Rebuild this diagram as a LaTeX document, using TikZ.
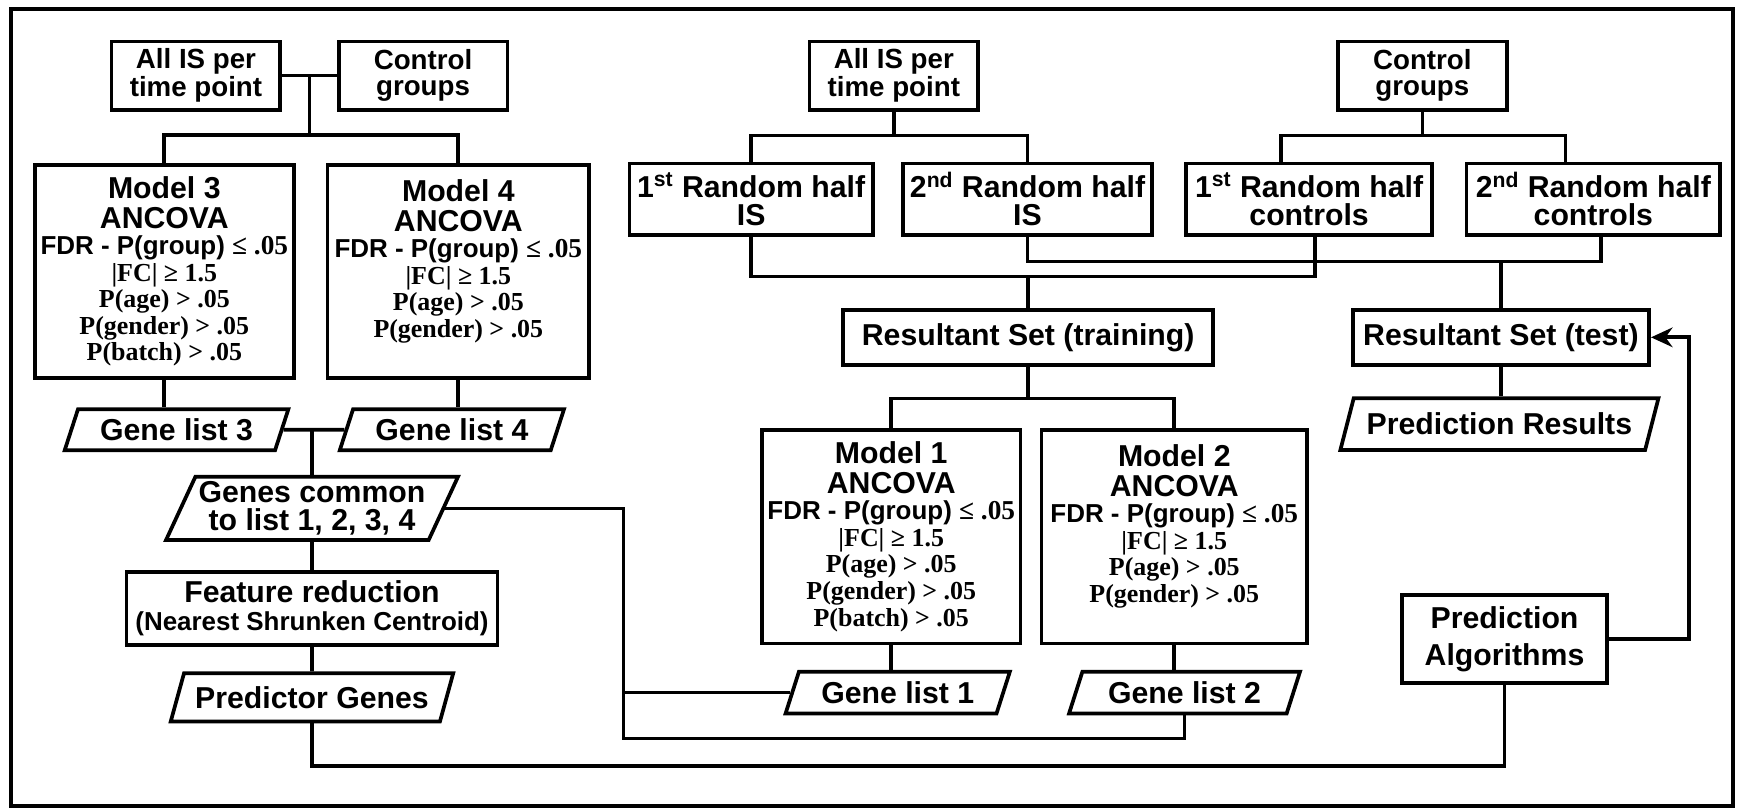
\documentclass[tikz,border=0pt]{standalone}
\usepackage{fontspec}
\setmainfont{Liberation Sans}
\newfontfamily\serifb{Liberation Serif}
\usetikzlibrary{shapes.geometric,arrows.meta,calc}

\newcommand{\ttl}{\fontsize{15.5}{15.5}\selectfont}
\newcommand{\crit}{\fontsize{13.3}{13.6}\selectfont}
\newcommand{\anc}[1]{{\ttl Model #1}\\[1.5pt]{\ttl ANCOVA}\\FDR - P(group) {\serifb\fontsize{14}{14}\selectfont ≤ .05}\\{\serifb |FC| ≥ 1.5}\\{\serifb P(age) > .05}\\{\serifb P(gender) > .05}}

\begin{document}
\begin{tikzpicture}[x=0.02cm,y=-0.02cm,
  box/.style={draw,line width=1.9pt,align=center,inner sep=1pt,
    font=\fontsize{15.5}{14.3}\selectfont\bfseries},
  src/.style={box,minimum width=3.04cm,minimum height=1.23cm,
    font=\fontsize{14.2}{13}\selectfont\bfseries},
  model/.style={box,minimum height=3.84cm,anchor=north,font=\crit\bfseries},
  data/.style={box,trapezium,trapezium left angle=63,trapezium right angle=117,
    trapezium stretches body},
  link/.style={line width=1.9pt}]
\useasboundingbox (0,0) rectangle (1568,728);
\draw[link] (10,8) rectangle (1561,726);

\node[src] (allL) at (176.5,68) {All IS per\\time point};
\node[src] (ctrlL) at (381,68) {Control\\groups};
\node[src] (allM) at (805,68) {All IS per\\time point};
\node[src] (ctrlR) at (1281,68) {Control\\groups};

\node[box,minimum width=4.38cm,minimum height=1.29cm] (r1IS) at (676.5,179.4) {1\textsuperscript{st} Random half\\IS};
\node[box,minimum width=4.48cm,minimum height=1.29cm] (r2IS) at (925.4,179.4) {2\textsuperscript{nd} Random half\\IS};
\node[box,minimum width=4.44cm,minimum height=1.29cm] (r1C) at (1179,179.4) {1\textsuperscript{st} Random half\\controls};
\node[box,minimum width=4.57cm,minimum height=1.29cm] (r2C) at (1435,179.4) {2\textsuperscript{nd} Random half\\controls};

\node[box,minimum width=6.67cm,minimum height=0.99cm] (train) at (926,303.8) {Resultant Set (training)};
\node[box,minimum width=5.34cm,minimum height=0.99cm] (test) at (1351.8,303.8) {Resultant Set (test)};
\node[data,minimum width=5.73cm,minimum height=0.93cm] (predres) at (1350.4,382) {Prediction Results};

\node[model,minimum width=4.66cm] (m3) at (148,147) {\anc{3}\\{\serifb P(batch) > .05}};
\node[model,minimum width=4.71cm] (m4) at (412.8,147) {\anc{4}\\\mbox{}};
\node[model,minimum width=4.66cm] (m1) at (802.7,385.8) {\anc{1}\\{\serifb P(batch) > .05}};
\node[model,minimum width=4.79cm] (m2) at (1057.6,385.8) {\anc{2}\\\mbox{}};

\node[data,minimum width=4.03cm,minimum height=0.74cm] (gl3) at (159,387) {Gene list 3};
\node[data,minimum width=4.04cm,minimum height=0.74cm] (gl4) at (407,387) {Gene list 4};
\node[data,minimum width=5.26cm,minimum height=1.14cm] (genes) at (281,457.9) {Genes common\\to list 1, 2, 3, 4};
\node[box,minimum width=6.68cm,minimum height=1.32cm] (feat) at (281,548) {Feature reduction\\{\crit(Nearest Shrunken Centroid)}};
\node[data,minimum width=5.09cm,minimum height=0.87cm] (predG) at (281,628) {Predictor Genes};
\node[data,minimum width=4.04cm,minimum height=0.75cm] (gl1) at (808.5,623.8) {Gene list 1};
\node[data,minimum width=4.16cm,minimum height=0.75cm] (gl2) at (1066.8,623.8) {Gene list 2};
\node[box,minimum width=3.7cm,minimum height=1.59cm,font=\fontsize{15.5}{19}\selectfont\bfseries] (alg) at (1355,575.6) {Prediction\\Algorithms};

\draw[link] (allL) -- (ctrlL);
\draw[link] ($(allL.east)!.5!(ctrlL.west)$) -- ++(0,53.6) coordinate (jL);
\draw[link] (m3.north) |- (jL) -| (m4.north);
\draw[link] (allM.south) -- ++(0,21.5) coordinate (jM);
\draw[link] (r1IS.north) |- (jM) -| (r2IS.north);
\draw[link] (ctrlR.south) -- ++(0,21.5) coordinate (jC);
\draw[link] ($(r1C.north)+(-25,0)$) |- (jC) -| ($(r2C.north)+(-25,0)$);

\draw[link] (train.north) -- ++(0,-28.3) coordinate (jT);
\draw[link] (r1IS.south) |- (jT) -| ($(r1C.south)+(5,0)$);
\draw[link] (test.north) -- ++(0,-42) coordinate (jS);
\draw[link] (r2IS.south) |- (jS) -| ($(r2C.south)+(7,0)$);
\draw[link] (train.south) -- ++(0,28.6) coordinate (jR);
\draw[link] (m1.north) |- (jR) -| (m2.north);
\draw[link] (test.south) -- (test.south |- predres.north);

\draw[link] (m3.south) -- (m3.south |- gl3.north);
\draw[link] (m4.south) -- (m4.south |- gl4.north);
\draw[link] (m1.south) -- (m1.south |- gl1.north);
\draw[link] (m2.south) -- (m2.south |- gl2.north);
\draw[link] (gl3.east) -- (gl4.west);
\draw[link] (genes.north) -- (genes.north |- gl3.east);
\draw[link] (genes.south) -- (feat.north);
\draw[link] (feat.south) -- (predG.north);

\coordinate (jB) at (561.6,665);
\draw[link] (genes.east) -| (jB) -| (gl2.south);
\draw[link] (gl1.west) -- (gl1.west -| jB);
\coordinate (jA) at (1355,690);
\draw[link] (predG.south) |- (jA) -- (alg.south);
\draw[link,-{Stealth[length=11pt,width=10pt]}] (alg.east) -- ++(72.3,0) |- (test.east);
\end{tikzpicture}
\end{document}
